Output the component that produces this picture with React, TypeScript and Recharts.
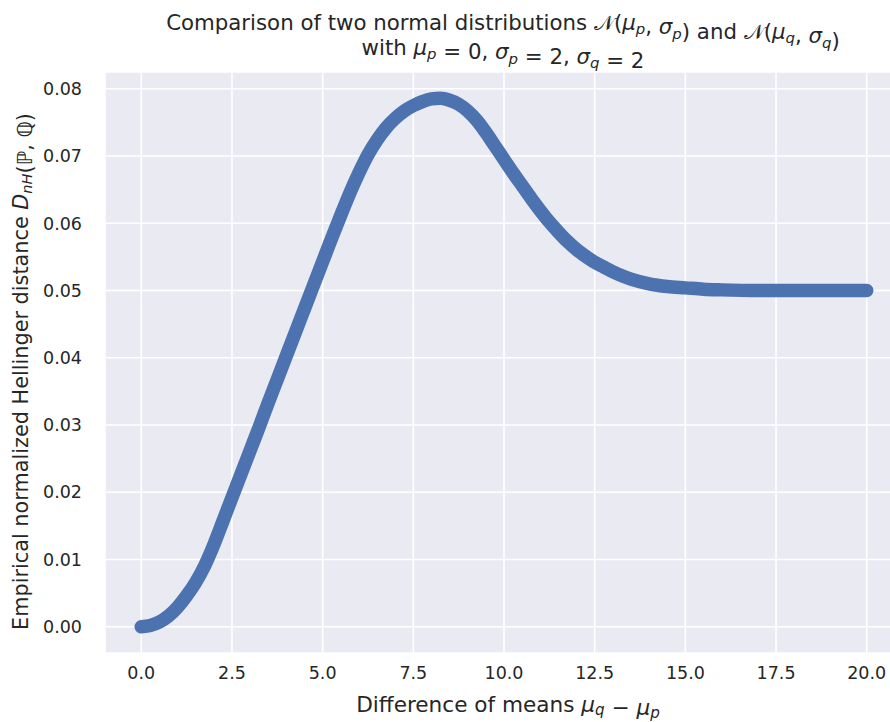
import React from "react";
import { LineChart, Line, XAxis, YAxis, CartesianGrid } from "recharts";

const xValues = [
  0, 0.25, 0.5, 0.75, 1.0, 1.25, 1.5, 1.75, 2.0, 2.25, 2.5, 2.75, 3.0, 3.25, 3.5, 3.75,
  4.0, 4.25, 4.5, 4.75, 5.0, 5.25, 5.5, 5.75, 6.0, 6.25, 6.5, 6.75, 7.0, 7.25, 7.5, 7.75,
  8.0, 8.25, 8.5, 8.75, 9.0, 9.25, 9.5, 9.75, 10.0, 10.25, 10.5, 10.75, 11.0, 11.25, 11.5,
  11.75, 12.0, 12.25, 12.5, 12.75, 13.0, 13.25, 13.5, 14.0, 14.5, 15.0, 15.5, 16.0, 17.0,
  18.0, 19.0, 20.0,
];
const yValues = [
  0.0, 0.0002, 0.0007, 0.0016, 0.0029, 0.0046, 0.0066, 0.0091, 0.0122, 0.0157, 0.0192,
  0.0227, 0.0262, 0.0297, 0.0333, 0.0368, 0.0403, 0.0438, 0.0473, 0.0508, 0.0543, 0.0578,
  0.0612, 0.0645, 0.0675, 0.0702, 0.0724, 0.0742, 0.0756, 0.0767, 0.0775, 0.0781, 0.0785,
  0.0786, 0.0783, 0.0777, 0.0767, 0.0753, 0.0735, 0.0715, 0.0695, 0.0675, 0.0656, 0.0637,
  0.0619, 0.0602, 0.0587, 0.0573, 0.0561, 0.0551, 0.0542, 0.0535, 0.0528, 0.0522, 0.0517,
  0.051, 0.0506, 0.0504, 0.0502, 0.0501, 0.05, 0.05, 0.05, 0.05,
];
const xTicks = [0, 2.5, 5, 7.5, 10, 12.5, 15, 17.5, 20];
const yTicks = [0, 0.01, 0.02, 0.03, 0.04, 0.05, 0.06, 0.07, 0.08];

const data = xValues.map((x, i) => ({ x, y: yValues[i] }));

const TICK_FS = 17.5;
const TEXT = "#262626";
const FONT = "DejaVu Sans";

function Sym(props: { base: string; sub: string; fs: number; dy: number }) {
  const { base, sub, fs, dy } = props;
  return (
    <>
      <tspan fontStyle="italic" fontFamily={FONT} fontSize={fs}>
        {base}
      </tspan>
      <tspan fontStyle="italic" fontFamily={FONT} fontSize={fs * 0.7} dy={dy}>
        {sub}
      </tspan>
      <tspan dy={-dy} fontFamily={FONT} fontSize={fs}>
        {""}
      </tspan>
    </>
  );
}

function T(props: { children: React.ReactNode; fs: number }) {
  return (
    <tspan fontFamily={FONT} fontSize={props.fs}>
      {props.children}
    </tspan>
  );
}

const TF = 21.3;
const XF = 21.6;
const YF = 20.8;

export default function App() {
  return (
    <div
      style={{
        position: "absolute",
        left: 0,
        top: 0,
        width: 890,
        height: 722,
        overflow: "hidden",
        background: "#ffffff",
      }}
    >
      <LineChart
        width={903}
        height={722}
        data={data}
        margin={{ top: 72, right: 0, bottom: 0, left: 0 }}
      >
        <CartesianGrid
          fill="#EAEAF2"
          fillOpacity={1}
          stroke="#ffffff"
          strokeWidth={1.6}
        />
        <XAxis
          dataKey="x"
          type="number"
          domain={[-1, 21]}
          ticks={xTicks}
          allowDataOverflow
          axisLine={false}
          tickLine={false}
          tickSize={0}
          tickMargin={14}
          height={69}
          tickFormatter={(v: number) => v.toFixed(1)}
          tick={{ fill: TEXT, fontSize: TICK_FS, fontFamily: FONT }}
        />
        <YAxis
          type="number"
          domain={[-0.0039, 0.0825]}
          ticks={yTicks}
          allowDataOverflow
          axisLine={false}
          tickLine={false}
          tickSize={0}
          tickMargin={23}
          width={105}
          tickFormatter={(v: number) => v.toFixed(2)}
          tick={{ fill: TEXT, fontSize: TICK_FS, fontFamily: FONT }}
        />
        <Line
          type="monotone"
          dataKey="y"
          stroke="#4C72B0"
          strokeWidth={13.5}
          strokeLinecap="round"
          strokeLinejoin="round"
          dot={false}
          activeDot={false}
          isAnimationActive={false}
        />
      </LineChart>
      <svg
        width={890}
        height={722}
        style={{ position: "absolute", left: 0, top: 0, pointerEvents: "none" }}
      >
        <text x={503} y={29.5} textAnchor="middle" fontFamily={FONT} fontSize={TF} fill={TEXT}>
          <T fs={TF}>Comparison of two normal distributions </T>
          <T fs={TF}>𝒩(</T>
          <Sym base="μ" sub="p" fs={TF} dy={4.5} />
          <T fs={TF}>, </T>
          <Sym base="σ" sub="p" fs={TF} dy={4.5} />
          <T fs={TF}>) and </T>
          <T fs={TF}>𝒩(</T>
          <Sym base="μ" sub="q" fs={TF} dy={4.5} />
          <T fs={TF}>, </T>
          <Sym base="σ" sub="q" fs={TF} dy={4.5} />
          <T fs={TF}>)</T>
        </text>
        <text x={503} y={54.5} textAnchor="middle" fontFamily={FONT} fontSize={TF} fill={TEXT}>
          <T fs={TF}>with </T>
          <Sym base="μ" sub="p" fs={TF} dy={4.5} />
          <T fs={TF}> = 0, </T>
          <Sym base="σ" sub="p" fs={TF} dy={4.5} />
          <T fs={TF}> = 2, </T>
          <Sym base="σ" sub="q" fs={TF} dy={4.5} />
          <T fs={TF}> = 2</T>
        </text>
        <text x={508} y={711.5} textAnchor="middle" fontFamily={FONT} fontSize={XF} fill={TEXT}>
          <T fs={XF}>Difference of means </T>
          <Sym base="μ" sub="q" fs={XF} dy={3} />
          <T fs={XF}> − </T>
          <Sym base="μ" sub="p" fs={XF} dy={3} />
        </text>
        <text
          x={0}
          y={0}
          textAnchor="middle"
          transform="translate(27.5, 371.5) rotate(-90)"
          fontFamily={FONT}
          fontSize={YF}
          fill={TEXT}
        >
          <T fs={YF}>Empirical normalized Hellinger distance </T>
          <Sym base="D" sub="nH" fs={YF} dy={4.5} />
          <T fs={YF}>(ℙ, ℚ)</T>
        </text>
      </svg>
    </div>
  );
}
